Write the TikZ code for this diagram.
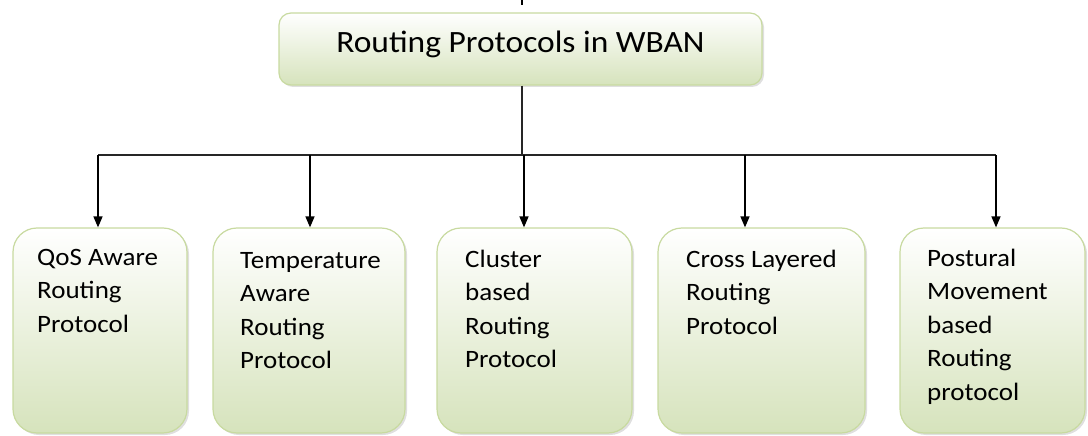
\documentclass[tikz,border=0pt]{standalone}
\usepackage{fontspec}
\setmainfont{Carlito}[FakeStretch=1.08]
\usetikzlibrary{arrows.meta,shadows}
\definecolor{gbot}{RGB}{214,227,188}
\definecolor{gline}{RGB}{200,218,160}
\newcommand{\firstln}{\rule{0pt}{18pt}}
\begin{document}
\begin{tikzpicture}[x=1pt,y=-1pt,
  boxbase/.style={draw=gline, line width=1.2pt, top color=white, bottom color=gbot,
    drop shadow={shadow xshift=2pt, shadow yshift=-2pt, opacity=0.25}},
  topbox/.style={boxbase, rounded corners=12pt, minimum width=483pt, minimum height=72pt,
    font=\fontsize{31}{36}\selectfont, text height=20pt, text depth=12pt, inner sep=0pt},
  leafbox/.style={boxbase, rounded corners=24pt, minimum height=205pt, inner sep=0pt},
  leaftext/.style={anchor=north west, align=left, font=\fontsize{25}{33.5}\selectfont, inner sep=0pt},
  trunk/.style={line width=2pt, draw=black!85},
  dropline/.style={line width=1.5pt, draw=black, -{Triangle[length=11pt,width=9pt]}}
]
\useasboundingbox (0,0) rectangle (1088,436);

\node[topbox] (top) at (520.5,49) {Routing Protocols in WBAN};

\node[leafbox, minimum width=174pt] (b1) at (100,330.5) {};
\node[leafbox, minimum width=192pt] (b2) at (309,330.5) {};
\node[leafbox, minimum width=195pt] (b3) at (534.5,330.5) {};
\node[leafbox, minimum width=207pt] (b4) at (761.5,330.5) {};
\node[leafbox, minimum width=185pt] (b5) at (992.5,330.5) {};

\node[leaftext] (t1) at (37,247) {\firstln QoS Aware\\Routing\\Protocol};
\node[leaftext] (t2) at (240,250) {\firstln Temperature\\Aware\\Routing\\Protocol};
\node[leaftext] (t3) at (465,249) {\firstln Cluster\\based\\Routing\\Protocol};
\node[leaftext] (t4) at (686,249) {\firstln Cross Layered\\Routing\\Protocol};
\node[leaftext] (t5) at (927,248) {\firstln Postural\\Movement\\based\\Routing\\protocol};

\coordinate (stubA) at (522,0);
\coordinate (stubB) at (522,5);
\coordinate (jm) at (522,155);
\coordinate (j1) at (98,155);
\coordinate (j2) at (310,155);
\coordinate (j3) at (524,155);
\coordinate (j4) at (745,155);
\coordinate (j5) at (996,155);

\draw[line width=1.5pt] (stubA) -- (stubB);
\draw[trunk] (top.south -| jm) -- (jm);
\draw[trunk] (j1) -- (j5);
\draw[dropline] (j1) -- (j1 |- b1.north);
\draw[dropline] (j2) -- (j2 |- b2.north);
\draw[dropline] (j3) -- (j3 |- b3.north);
\draw[dropline] (j4) -- (j4 |- b4.north);
\draw[dropline] (j5) -- (j5 |- b5.north);
\end{tikzpicture}
\end{document}
